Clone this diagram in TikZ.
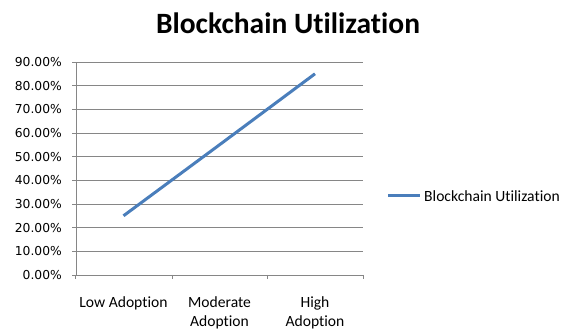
\documentclass[tikz,border=0pt]{standalone}
\usepackage{fontspec}
\setmainfont[Ligatures={NoCommon}]{Carlito}
\newfontfamily\tickfont{DejaVu Sans}
\definecolor{seriesblue}{HTML}{4A7EBB}
\definecolor{gridgray}{HTML}{868686}
\begin{document}
\begin{tikzpicture}[x=1pt,y=1pt,
    grid/.style={draw=gridgray,line width=0.9pt},
    series/.style={draw=seriesblue,line width=3pt},
    ticklabel/.style={anchor=east,inner sep=0pt,font=\tickfont\fontsize{12.3}{14}\selectfont},
    catlabel/.style={anchor=north,align=center,inner sep=0pt,font=\fontsize{15.6}{19.5}\selectfont}]
    \useasboundingbox (0,0) rectangle (562,329);
    % title
    \node[font=\bfseries\fontsize{29.5}{32}\selectfont] (title) at (288,306) {Blockchain Utilization};
    % grid and value axis
    \foreach \v [count=\i from 0] in {0.00,10.00,20.00,30.00,40.00,50.00,60.00,70.00,80.00,90.00} {
        \draw[grid] (72,{54+\i*23.667}) -- (363,{54+\i*23.667});
        \node[ticklabel] (tick\i) at (62,{54+\i*23.667}) {\v\%};
    }
    \draw[grid] (76,54) -- (76,267);
    \foreach \x in {75,172,267,363}
        \draw[grid] (\x,54) -- (\x,50);
    % categories
    \node[catlabel] (low) at (123.5,33) {Low Adoption};
    \node[catlabel] (moderate) at (219.5,33) {Moderate\\Adoption};
    \node[catlabel] (high) at (315,33) {High\\Adoption};
    % data
    \coordinate (p1) at (123.5,113.2);
    \coordinate (p2) at (219.5,184.2);
    \coordinate (p3) at (315,255.2);
    \draw[series] (p1) -- (p2) -- (p3);
    % legend
    \coordinate (key) at (388,133);
    \coordinate (keyend) at (420,133);
    \node[anchor=west,inner sep=0pt,font=\fontsize{15.6}{18}\selectfont] (legend) at (424,133) {Blockchain Utilization};
    \draw[series] (key) -- (keyend);
\end{tikzpicture}
\end{document}
